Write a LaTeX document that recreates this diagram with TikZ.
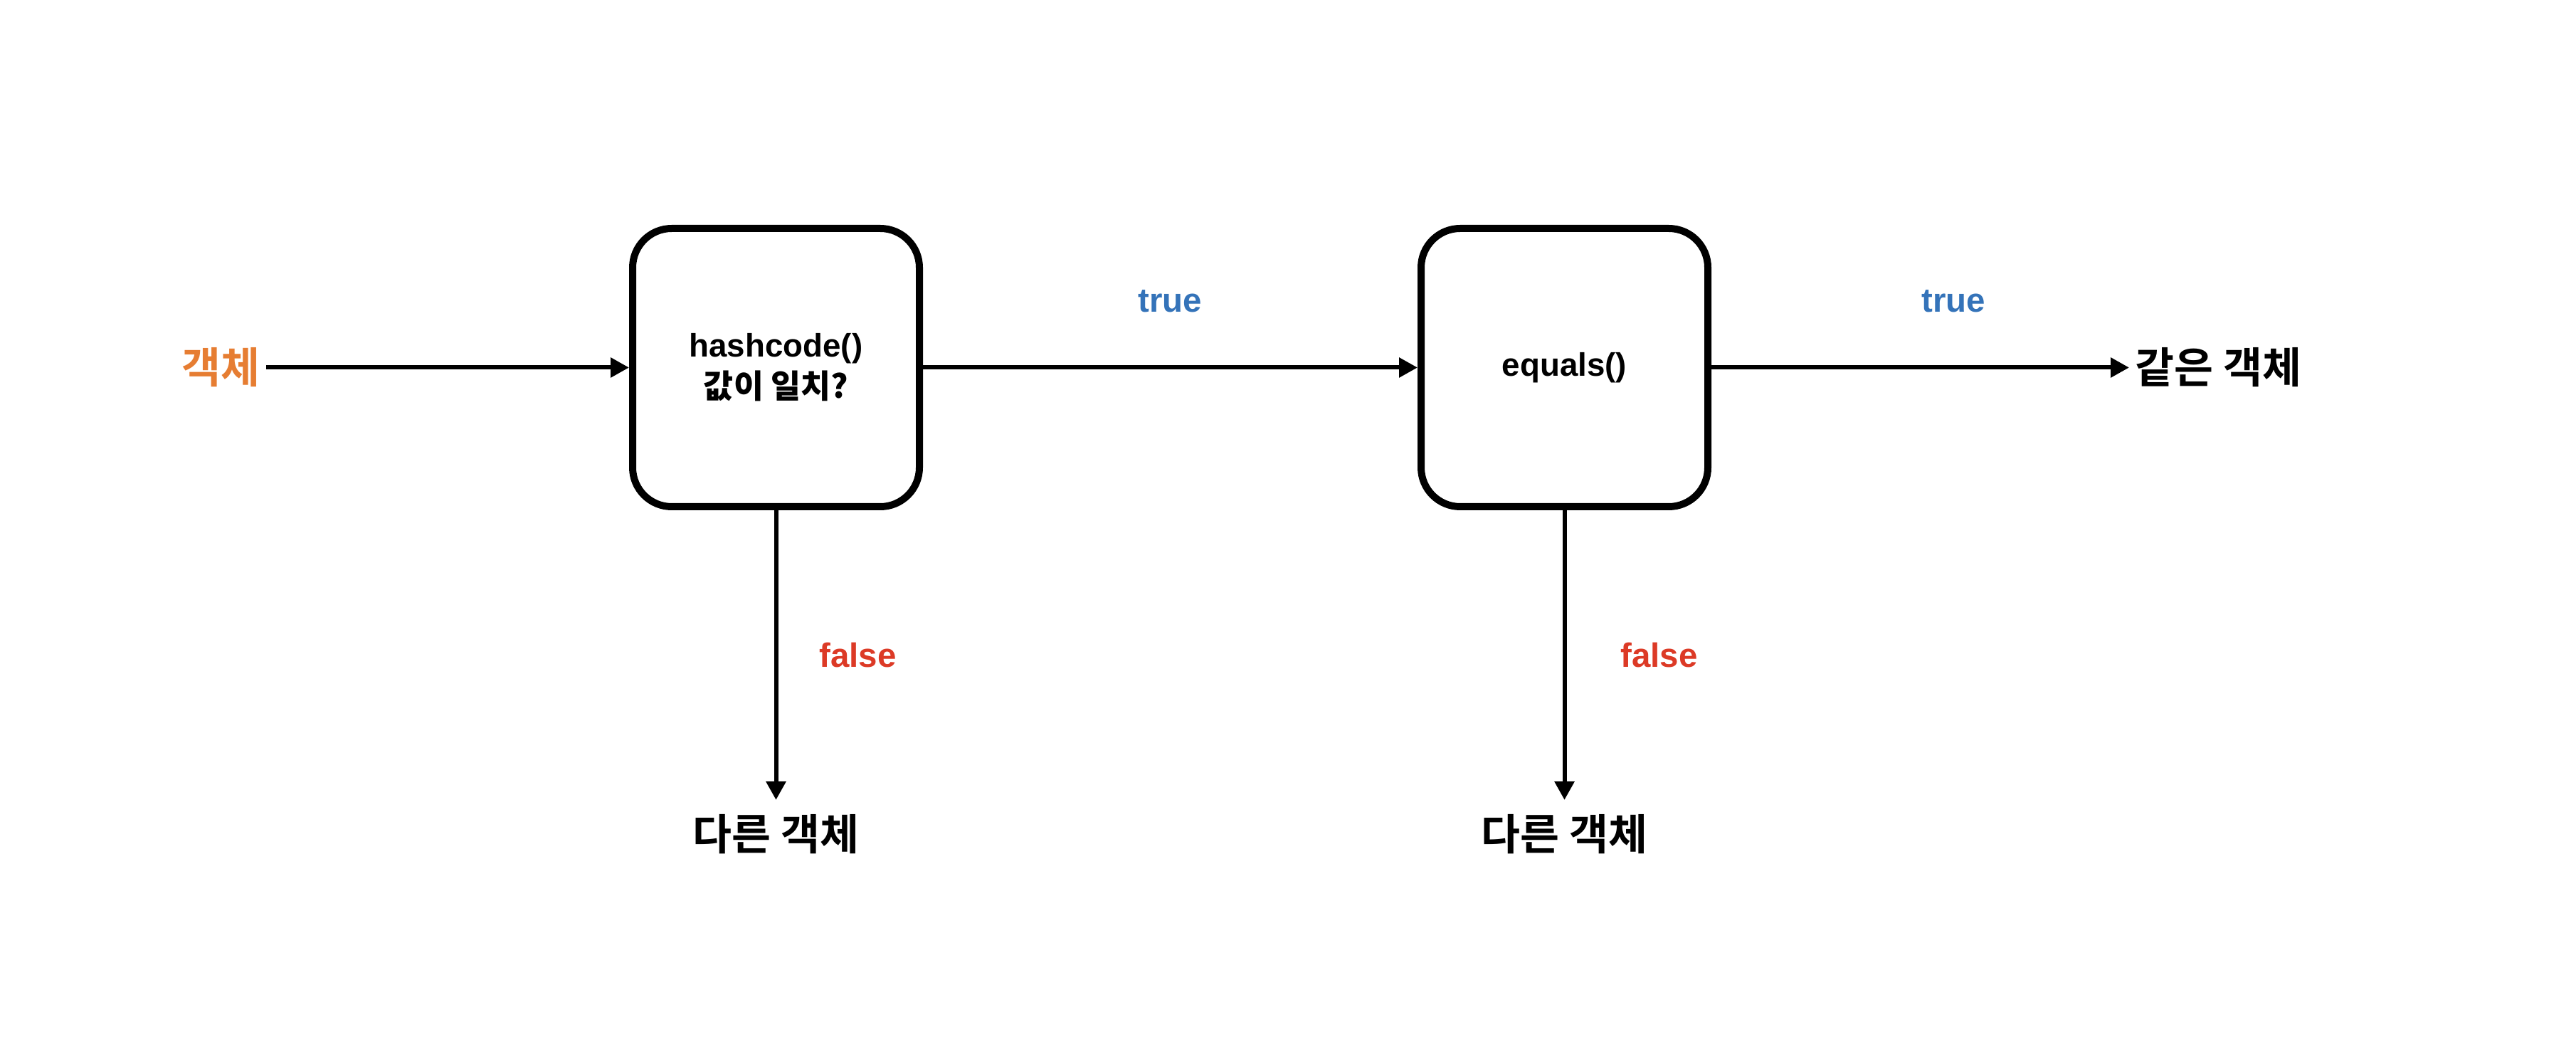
\documentclass[tikz,border=0pt]{standalone}
\usepackage{fontspec}
\setmainfont{Liberation Sans}
\newfontfamily\kofont{Noto Sans CJK KR Bold}
\usetikzlibrary{arrows.meta, positioning}
\definecolor{objorange}{RGB}{230,125,50}
\definecolor{trueblue}{RGB}{52,115,185}
\definecolor{falsered}{RGB}{220,58,38}

\begin{document}
\begin{tikzpicture}[
    node distance=8mm,
    testbox/.style={draw, line width=0.1cm, rounded corners=0.55cm, align=center, minimum width=4.03cm, minimum height=3.91cm, font=\fontsize{13}{16.5}\selectfont\bfseries},
    result/.style={inner xsep=0.8mm, inner ysep=2mm, font=\fontsize{17}{20}\selectfont\kofont},
    lbl/.style={inner sep=0.8mm, font=\fontsize{13.5}{16}\selectfont\bfseries},
    arr/.style={-{Triangle[length=0.26cm, width=0.27cm]}, line width=0.06cm}
]
\useasboundingbox (0,0) rectangle (36.2,14.66);
\node[testbox] (hash) at (10.905,9.495) {hashcode()\\{\kofont 값이 일치?}};
\node[testbox, right=6.95cm of hash] (equals) {equals()};
\node[result, text=objorange, left=5.1cm of hash] (obj) {객체};
\node[result, right=5.87cm of equals] (same) {같은 객체};
\node[result, below=4.07cm of hash] (diff1) {다른 객체};
\node[result, below=4.07cm of equals] (diff2) {다른 객체};

\draw[arr] (obj) -- (hash);
\draw[arr] (hash) -- node[lbl, text=trueblue, yshift=0.93cm]{true} (equals);
\draw[arr] (equals) -- node[lbl, text=trueblue, pos=0.58, yshift=0.93cm]{true} (same);
\draw[arr] (hash) -- node[lbl, text=falsered, right=0.5cm]{false} (diff1);
\draw[arr] (equals) -- node[lbl, text=falsered, right=0.68cm]{false} (diff2);
\end{tikzpicture}
\end{document}
